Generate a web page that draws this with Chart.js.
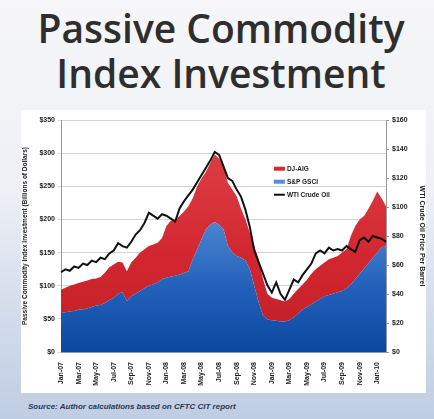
<!DOCTYPE html>
<html>
<head>
<meta charset="utf-8">
<script src="https://cdn.jsdelivr.net/npm/chart.js@4"></script>
<style>
  html, body { margin: 0; padding: 0; }
  body {
    width: 434px; height: 419px; position: relative; overflow: hidden;
    background: linear-gradient(180deg, #f6f6f8 0%, #eef0f5 45%, #d3dcea 75%, #bfcde3 100%);
  }
  #title {
    position: absolute; left: 4px; top: 5px; width: 434px; text-align: center;
    font-family: "Open Sans", sans-serif; font-weight: 600; font-size: 39px;
    line-height: 45px; color: #2e2e2e;
  }
  #panel {
    position: absolute; left: 21px; top: 110px; width: 405px; height: 283px; background: #fff;
  }
  #panel canvas { position: absolute; left: 0; top: 0; }
  #source {
    position: absolute; left: 28px; top: 402px;
    font-family: "Liberation Sans", sans-serif; font-style: italic; font-weight: bold;
    font-size: 8px; color: #2b3550;
  }
</style>
</head>
<body>
<div id="title">Passive Commodity<br>Index Investment</div>
<div id="panel"><canvas id="cit" width="405" height="283"></canvas></div>
<div id="source">Source: Author calculations based on CFTC CIT report</div>
<script>
// two readings per month, Jan 2007 through mid Feb 2010
var tickLabels = ['Jan-07','Mar-07','May-07','Jul-07','Sep-07','Nov-07','Jan-08','Mar-08','May-08','Jul-08',
                  'Sep-08','Nov-08','Jan-09','Mar-09','May-09','Jul-09','Sep-09','Nov-09','Jan-10'];

// S&P GSCI index investment, $ billions
var gsci = [59, 60, 61, 62, 64, 64, 66, 68, 70, 71,
            74, 78, 82, 88, 90, 77, 84, 88, 92, 96,
            100, 102, 105, 110, 112, 114, 115, 117, 119, 122,
            140, 155, 170, 185, 192, 196, 192, 185, 160, 150,
            145, 142, 138, 125, 100, 75, 55, 49, 48, 47,
            46, 46, 48, 52, 58, 64, 68, 72, 76, 80,
            84, 86, 88, 90, 92, 96, 102, 110, 118, 126,
            134, 142, 150, 158, 160];

// DJ-AIG index investment, $ billions (stacked on GSCI)
var djaig = [35, 37, 39, 40, 40, 42, 42, 42, 41, 42,
             46, 50, 50, 48, 45, 45, 51, 54, 58, 59,
             60, 60, 60, 62, 78, 84, 85, 88, 93, 98,
             92, 95, 92, 87, 93, 102, 100, 96, 95, 95,
             90, 74, 62, 55, 60, 65, 55, 39, 34, 33,
             32, 30, 32, 36, 37, 38, 41, 46, 49, 50,
             51, 54, 54, 55, 58, 59, 73, 80, 82, 79,
             82, 86, 92, 74, 60];

// WTI crude oil, $ per barrel
var wti = [55, 57, 56, 59, 58, 61, 60, 63, 62, 65,
           64, 68, 70, 75, 73, 72, 76, 81, 84, 89,
           96, 94, 92, 95, 94, 92, 90, 99, 104, 108,
           112, 117, 122, 127, 132, 138, 136, 128, 120, 118,
           112, 107, 98, 86, 70, 62, 54, 46, 41, 48,
           40, 36, 43, 50, 48, 53, 57, 61, 68, 70,
           68, 72, 70, 71, 70, 73, 71, 69, 77, 79,
           76, 80, 79, 78, 76];

var categories = gsci.map(function (v, i) { return i % 4 === 0 ? tickLabels[i / 4] : ''; });

function vGradient(ctx, area, stops) {
  var g = ctx.createLinearGradient(0, area.top, 0, area.bottom);
  stops.forEach(function (s) { g.addColorStop(s[0], s[1]); });
  return g;
}

var tickFont = { family: 'Liberation Sans', size: 7, weight: 'bold' };

// legend drawn inside the plot, upper middle
var insideLegend = {
  id: 'insideLegend',
  afterDraw: function (chart) {
    var c = chart.ctx, a = chart.chartArea;
    var x = a.left + 0.655 * (a.right - a.left), y = a.top + 0.21 * (a.bottom - a.top);
    var items = [['DJ-AIG', '#d42c34', 4], ['S&P GSCI', '#5a8fd6', 4], ['WTI Crude Oil', '#111', 2]];
    c.save();
    c.font = 'bold 6.5px "Liberation Sans"';
    c.textBaseline = 'middle';
    items.forEach(function (it, k) {
      var yy = y + k * 13;
      c.fillStyle = it[1];
      c.fillRect(x, yy - it[2] / 2, 11, it[2]);
      c.fillStyle = '#222';
      c.fillText(it[0], x + 13, yy);
    });
    c.restore();
  }
};

// order sets both stacking (lowest first) and drawing (lowest on top)
new Chart(document.getElementById('cit'), {
  type: 'line',
  data: {
    labels: categories,
    datasets: [{
      label: 'S&P GSCI',
      data: gsci,
      stack: 'cit',
      yAxisID: 'y',
      fill: 'origin',
      borderWidth: 0,
      pointRadius: 0,
      backgroundColor: function (ctx) {
        var a = ctx.chart.chartArea;
        if (!a) return '#3b78cc';
        return vGradient(ctx.chart.ctx, a, [[0, '#8fb6ea'], [0.42, '#4f86d0'], [0.72, '#2261bb'], [1, '#0b489f']]);
      },
      order: 2
    }, {
      label: 'DJ-AIG',
      data: djaig,
      stack: 'cit',
      yAxisID: 'y',
      fill: '-1',
      borderWidth: 0,
      pointRadius: 0,
      backgroundColor: function (ctx) {
        var a = ctx.chart.chartArea;
        if (!a) return '#d42c34';
        return vGradient(ctx.chart.ctx, a, [[0, '#e0444c'], [0.6, '#d2262f'], [1, '#bf1f28']]);
      },
      order: 3
    }, {
      label: 'WTI Crude Oil',
      data: wti,
      stack: 'oil',
      yAxisID: 'y1',
      fill: false,
      borderColor: '#111',
      borderWidth: 2,
      pointRadius: 0,
      order: 1
    }]
  },
  options: {
    responsive: false,
    animation: false,
    layout: { padding: { top: 10, right: 0, left: 0, bottom: 0 } },
    plugins: { legend: { display: false }, tooltip: { enabled: false } },
    scales: {
      x: {
        offset: false,
        grid: { display: false },
        border: { color: '#999' },
        afterFit: function (s) { s.height = 41; },
        ticks: {
          autoSkip: false, minRotation: 90, maxRotation: 90, padding: 2,
          font: tickFont, color: '#222',
          callback: function (v, i) { return categories[i]; }
        }
      },
      y: {
        stacked: true,
        min: 0, max: 350,
        afterFit: function (s) { s.width = 40; },
        grid: { color: '#d4d4d4', tickLength: 3 },
        border: { color: '#999' },
        ticks: { stepSize: 50, font: tickFont, color: '#222', padding: 3,
                 callback: function (v) { return '$' + v; } },
        title: { display: true, text: 'Passive Commodity Index Investment (Billions of Dollars)',
                 font: { family: 'Liberation Sans', size: 6.5, weight: 'bold' }, color: '#222', padding: 0 }
      },
      y1: {
        position: 'right',
        stacked: false,
        min: 0, max: 160,
        afterFit: function (s) { s.width = 40; },
        grid: { drawOnChartArea: false, tickLength: 3, color: '#999' },
        border: { color: '#999' },
        ticks: { stepSize: 20, font: tickFont, color: '#222', padding: 3,
                 callback: function (v) { return '$' + v; } },
        title: { display: true, text: 'WTI Crude Oil Price Per Barrel',
                 font: { family: 'Liberation Sans', size: 7, weight: 'bold' }, color: '#222', padding: 0 }
      }
    }
  },
  plugins: [insideLegend]
});
</script>
</body>
</html>
